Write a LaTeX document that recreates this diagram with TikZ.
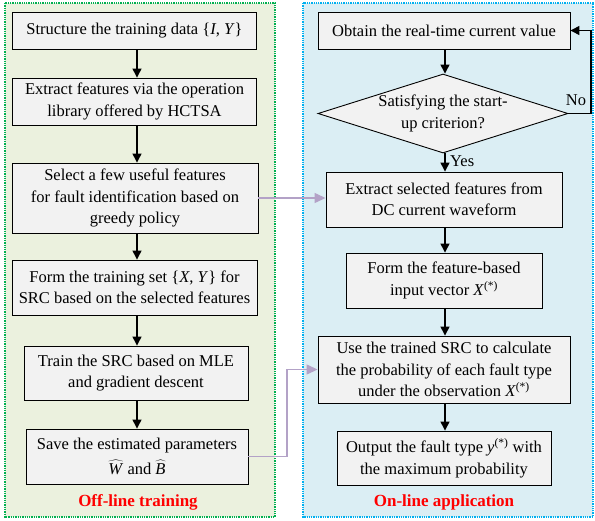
\documentclass[tikz,border=0pt]{standalone}
\usepackage{fontspec}
\setmainfont{Liberation Serif}
\usetikzlibrary{arrows.meta,shapes.geometric}
\definecolor{boxfill}{HTML}{F2F2F2}
\definecolor{greenfill}{HTML}{EBF1DE}
\definecolor{bluefill}{HTML}{DBEEF4}
\definecolor{greenline}{HTML}{00B050}
\definecolor{blueline}{HTML}{00B0F0}
\definecolor{lav}{HTML}{B3A2C7}
\tikzset{
  stepbox/.style={draw=black, line width=0.9pt, fill=boxfill, inner sep=0pt, align=center,
    font=\fontsize{16.5}{21.5}\selectfont},
  flow/.style={line width=1.3pt, -{Triangle[width=9pt,length=9pt]}},
  link/.style={draw=lav, line width=1.3pt, -{Triangle[width=10pt,length=11pt]}, color=lav},
  panel/.style={line width=1.3pt, densely dotted},
  paneltitle/.style={text=red, font=\fontsize{17}{20}\selectfont\bfseries},
  lbl/.style={font=\fontsize{16.5}{19}\selectfont, inner sep=1pt}
}
\begin{document}
\begin{tikzpicture}[x=1pt,y=-1pt]
\useasboundingbox (0,0) rectangle (595,520);
% panels
\draw[panel, draw=greenline, fill=greenfill] (5,3) rectangle (275,517);
\draw[panel, draw=blueline, fill=bluefill] (303,3) rectangle (593,517);
\node[paneltitle] (offt) at (138,502) {Off-line training};
\node[paneltitle] (onta) at (444,502) {On-line application};
% left column
\node[stepbox, minimum width=244pt, minimum height=37pt] (L1) at (134.5,30.5) {Structure the training data \{\textit{I}, \textit{Y}\}};
\node[stepbox, minimum width=244pt, minimum height=47pt] (L2) at (134.5,101.5) {Extract features via the operation\\library offered by HCTSA};
\node[stepbox, minimum width=246pt, minimum height=70pt] (L3) at (135,198) {Select a few useful features\\for fault identification based on\\greedy policy};
\node[stepbox, minimum width=245pt, minimum height=55pt] (L4) at (134.5,287.5) {Form the training set \{\textit{X}, \textit{Y}\} for\\SRC based on the selected features};
\node[stepbox, minimum width=224pt, minimum height=54pt] (L5) at (136,373) {Train the SRC based on MLE\\and gradient descent};
\node[stepbox, minimum width=222pt, minimum height=55pt] (L6) at (137,456.5) {Save the estimated parameters\\[3pt]$\widehat{\mbox{\textit{W}}}$ and $\widehat{\mbox{\textit{B}}}$};
\coordinate (lx) at (137,0);
\draw[flow] (L1.south -| lx) -- (L2.north -| lx);
\draw[flow] (L2.south -| lx) -- (L3.north -| lx);
\draw[flow] (L3.south -| lx) -- (L4.north -| lx);
\draw[flow] (L4.south -| lx) -- (L5.north -| lx);
\draw[flow] (L5.south -| lx) -- (L6.north -| lx);
% right column
\node[stepbox, minimum width=252pt, minimum height=37pt] (R1) at (444,30.5) {Obtain the real-time current value};
\node[diamond, draw=black, line width=0.9pt, fill=boxfill, minimum width=250pt, minimum height=79pt, inner sep=0pt] (D) at (443,113.5) {};
\node[align=center, font=\fontsize{16.5}{21.5}\selectfont] (Dt) at (D.center) {Satisfying the start-\\up criterion?};
\node[stepbox, minimum width=236pt, minimum height=55pt] (R2) at (444,199.5) {Extract selected features from\\DC current waveform};
\node[stepbox, minimum width=196pt, minimum height=55pt] (R3) at (444,280.5) {Form the feature-based\\input vector \textit{X}\textsuperscript{(*)}};
\node[stepbox, minimum width=252pt, minimum height=67pt] (R4) at (444,369.5) {Use the trained SRC to calculate\\the probability of each fault type\\under the observation \textit{X}\textsuperscript{(*)}};
\node[stepbox, minimum width=214pt, minimum height=54pt] (R5) at (444,458) {Output the fault type \textit{y}\textsuperscript{(*)} with\\the maximum probability};
\coordinate (rx) at (445,0);
\coordinate (ex) at (591,0);
\draw[flow] (R1.south -| rx) -- (D.north -| rx);
\draw[flow] (D.south -| rx) -- (R2.north -| rx);
\node[lbl, anchor=west] (yes) at (449,161) {Yes};
\draw[flow] (D.east) -- (D.east -| ex) |- (R1.east);
\node[lbl] (no) at (576,100) {No};
\draw[flow] (R2.south -| rx) -- (R3.north -| rx);
\draw[flow] (R3.south -| rx) -- (R4.north -| rx);
\draw[flow] (R4.south -| rx) -- (R5.north -| rx);
% cross links
\coordinate (px) at (287,0);
\draw[link] (L3.east) -- (L3.east -| R2.west);
\draw[link] (L6.east) -- (L6.east -| px) |- (R4.west);
\end{tikzpicture}
\end{document}
